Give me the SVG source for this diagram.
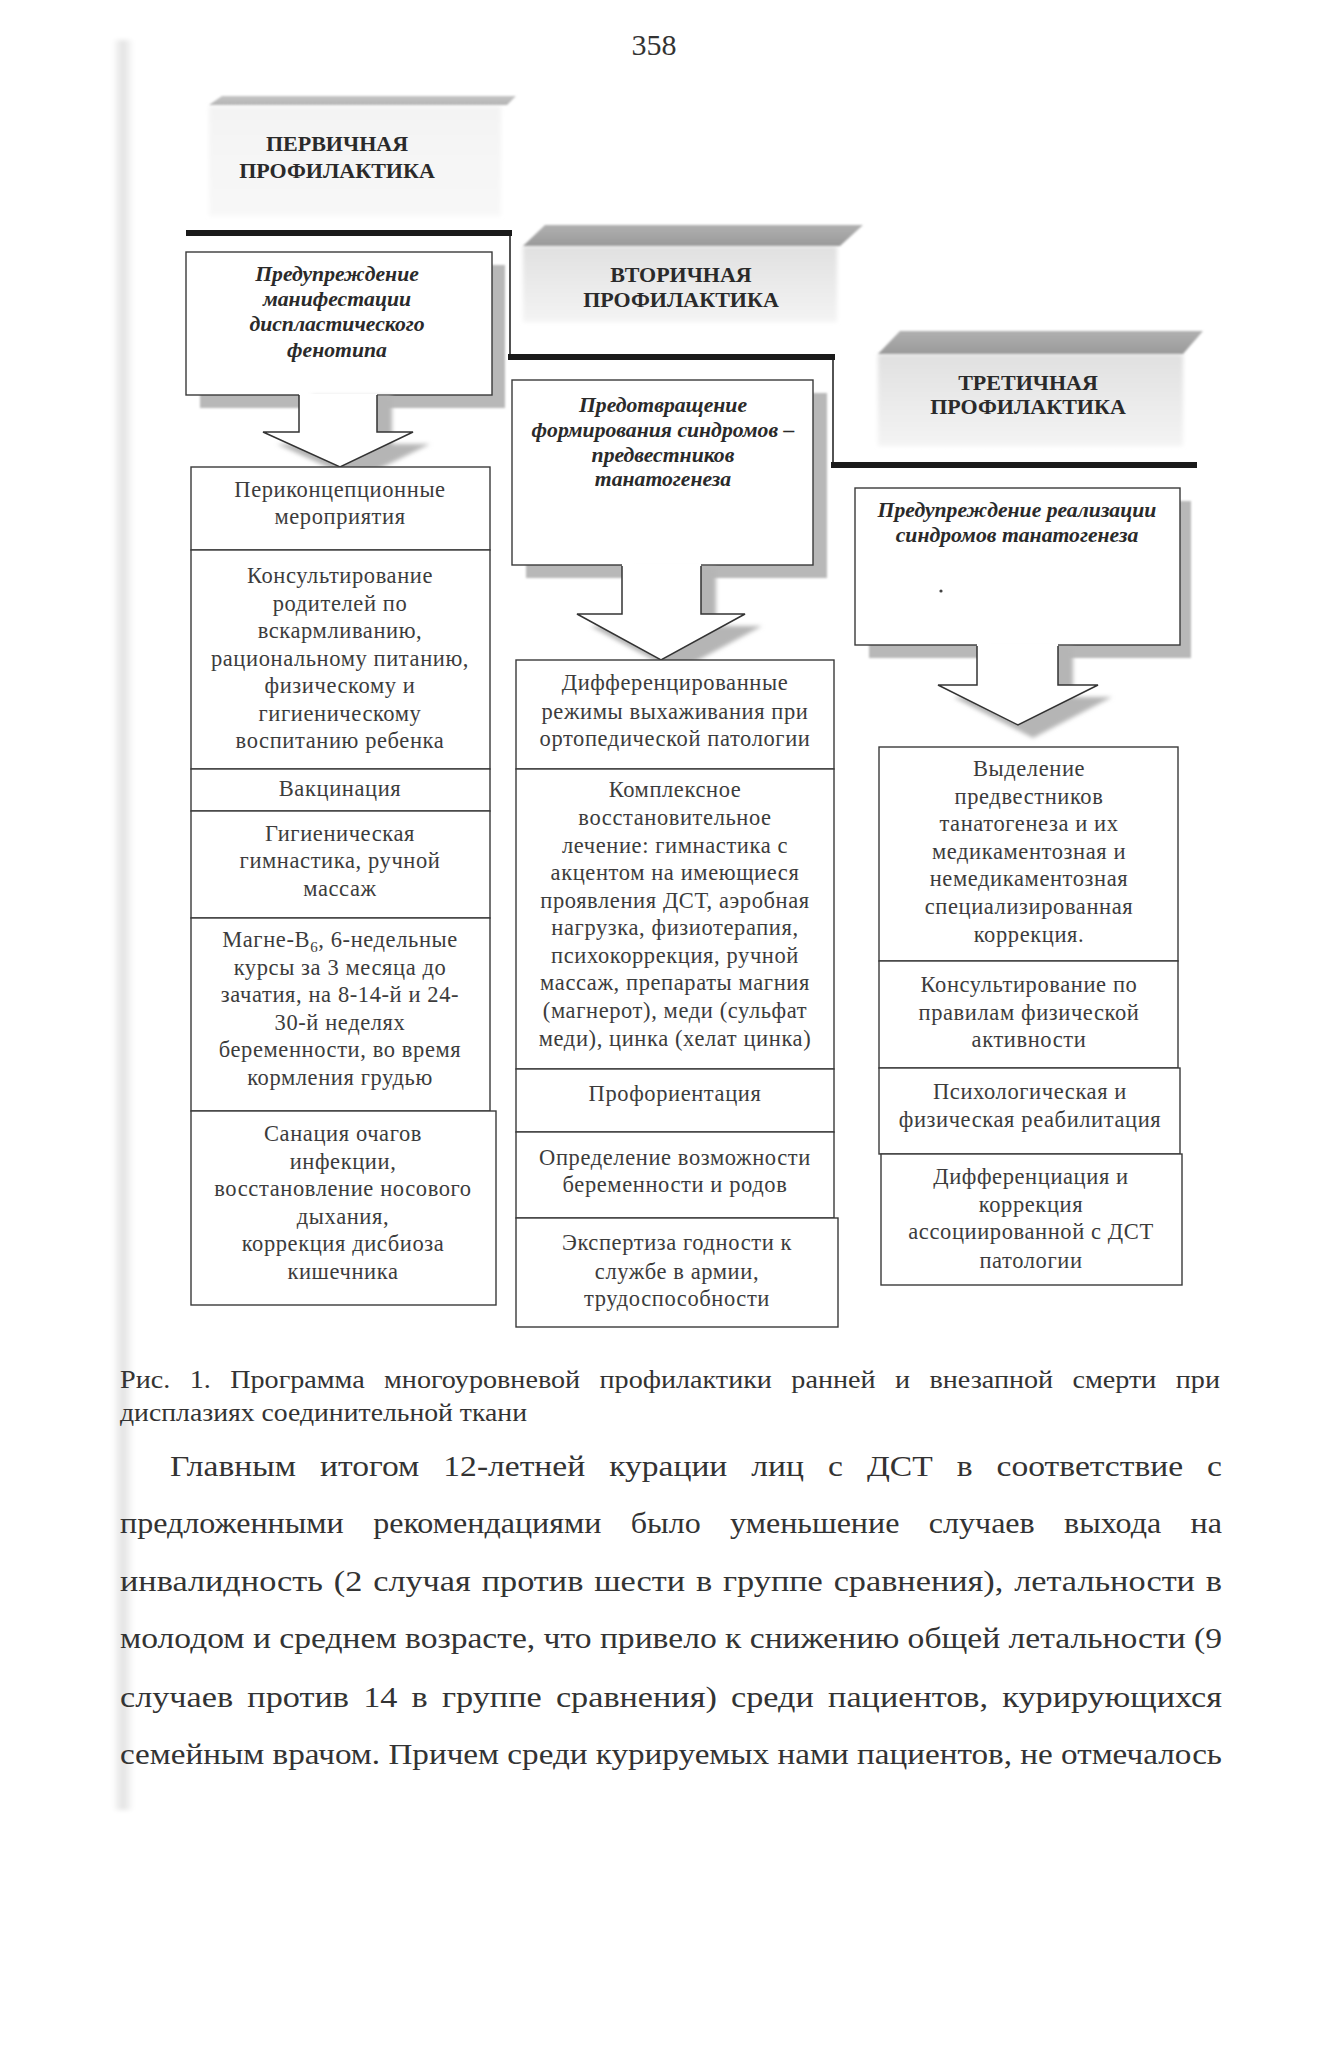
<svg xmlns="http://www.w3.org/2000/svg" width="1340" height="2050" viewBox="0 0 1340 2050">
<defs>
<style>
.cell{fill:#fff;stroke:#3a3a3a;stroke-width:1.4}
.t{font-family:"Liberation Serif","Times New Roman",serif;font-size:22.5px;fill:#3c3c3c;text-anchor:middle;letter-spacing:0.6px}
.hb{font-family:"Liberation Serif","Times New Roman",serif;font-size:22px;font-weight:bold;fill:#2a2a2a;text-anchor:middle}
.bi{font-family:"Liberation Serif","Times New Roman",serif;font-size:21.7px;font-weight:bold;font-style:italic;fill:#2a2a2a;text-anchor:middle}
.box{fill:#fff;stroke:#3a3a3a;stroke-width:1.4}
.shadow{fill:#b8b8b8}
.thick{stroke:#1a1a1a;stroke-width:6;fill:none}
.thin{stroke:#1a1a1a;stroke-width:1.5;fill:none}
.arrowfill{fill:#fff;stroke:none}
.arrowline{fill:none;stroke:#333;stroke-width:1.5}
.body{font-family:"Liberation Serif","Times New Roman",serif;font-size:30px;fill:#333}
.cap{font-family:"Liberation Serif","Times New Roman",serif;font-size:25px;fill:#333}
</style>
<linearGradient id="hdrTop" x1="0" y1="0" x2="0" y2="1">
<stop offset="0" stop-color="#b0b0b0"/><stop offset="1" stop-color="#9a9a9a"/>
</linearGradient>
<linearGradient id="hdrTopLight" x1="0" y1="0" x2="0" y2="1">
<stop offset="0" stop-color="#c4c4c4"/><stop offset="1" stop-color="#b4b4b4"/>
</linearGradient>
<linearGradient id="hdrBox" x1="0" y1="0" x2="0" y2="1">
<stop offset="0" stop-color="#e0e0e0"/><stop offset="1" stop-color="#f4f4f4"/>
</linearGradient>
<linearGradient id="hdrBoxLight" x1="0" y1="0" x2="0" y2="1">
<stop offset="0" stop-color="#f3f3f3"/><stop offset="1" stop-color="#f8f8f8"/>
</linearGradient>
<linearGradient id="leftStrip" x1="0" y1="0" x2="1" y2="0">
<stop offset="0" stop-color="#ffffff"/><stop offset="0.5" stop-color="#e2e2e2"/><stop offset="1" stop-color="#ffffff"/>
</linearGradient>
<filter id="soft" x="-5%" y="-20%" width="110%" height="140%"><feGaussianBlur stdDeviation="2"/></filter>
<filter id="soft1" x="-5%" y="-20%" width="110%" height="140%"><feGaussianBlur stdDeviation="1"/></filter>
</defs>
<rect x="0" y="0" width="1340" height="2050" fill="#fff"/>
<rect x="112" y="40" width="22" height="1770" fill="url(#leftStrip)" filter="url(#soft)"/>

<text x="654" y="55" font-family="Liberation Serif, serif" font-size="30" fill="#333" text-anchor="middle">358</text>

<!-- headers -->
<g id="header-primary">
<rect x="209" y="106" width="292" height="110" fill="url(#hdrBoxLight)" filter="url(#soft)"/>
<polygon points="222,96 516,96 507,105 209,105" fill="url(#hdrTopLight)" filter="url(#soft1)"/>
<text class="hb" x="337" y="151">ПЕРВИЧНАЯ</text>
<text class="hb" x="337" y="178">ПРОФИЛАКТИКА</text>
</g>
<g id="header-secondary">
<rect x="523" y="246" width="314" height="76" fill="url(#hdrBox)" filter="url(#soft)"/>
<polygon points="545,225 863,225 840,246 523,246" fill="url(#hdrTop)" filter="url(#soft1)"/>
<text class="hb" x="681" y="282">ВТОРИЧНАЯ</text>
<text class="hb" x="681" y="307">ПРОФИЛАКТИКА</text>
</g>
<g id="header-tertiary">
<rect x="878" y="354" width="305" height="92" fill="url(#hdrBox)" filter="url(#soft)"/>
<polygon points="900,331 1203,331 1183,354 878,354" fill="url(#hdrTop)" filter="url(#soft1)"/>
<text class="hb" x="1028" y="390">ТРЕТИЧНАЯ</text>
<text class="hb" x="1028" y="414">ПРОФИЛАКТИКА</text>
</g>

<!-- step lines -->
<g id="steps">
<line class="thick" x1="186" y1="233" x2="512" y2="233"/>
<line class="thin" x1="510" y1="233" x2="510" y2="357"/>
<line class="thick" x1="508" y1="357" x2="835" y2="357"/>
<line class="thin" x1="833" y1="357" x2="833" y2="465"/>
<line class="thick" x1="831" y1="465" x2="1197" y2="465"/>
</g>

<!-- goal boxes -->
<g id="goal-primary">
<rect class="shadow" x="200" y="265" width="305" height="143" filter="url(#soft1)"/>
<rect class="box" x="186" y="252" width="306" height="143"/>
<text class="bi" x="337" y="281">Предупреждение</text>
<text class="bi" x="337" y="306">манифестации</text>
<text class="bi" x="337" y="331">диспластического</text>
<text class="bi" x="337" y="357">фенотипа</text>
</g>
<g id="goal-secondary">
<rect class="shadow" x="526" y="393" width="301" height="185" filter="url(#soft1)"/>
<rect class="box" x="512" y="380" width="301" height="185"/>
<text class="bi" x="663" y="412">Предотвращение</text>
<text class="bi" x="663" y="437">формирования синдромов –</text>
<text class="bi" x="663" y="462">предвестников</text>
<text class="bi" x="663" y="486">танатогенеза</text>
</g>
<g id="goal-tertiary">
<rect class="shadow" x="869" y="501" width="322" height="157" filter="url(#soft1)"/>
<rect class="box" x="855" y="488" width="325" height="157"/>
<text class="bi" x="1017" y="517">Предупреждение реализации</text>
<text class="bi" x="1017" y="542">синдромов танатогенеза</text>
<circle cx="941" cy="591" r="1.6" fill="#444"/>
</g>

<!-- connectors -->
<g id="connectors">
<polygon points="312,396 392,396 392,444 430,444 356,480 277,444 312,444" fill="#b5b5b5" filter="url(#soft)"/>
<polygon class="arrowfill" points="299,394 377,394 377,432 413,432 340,467 263,432 299,432"/>
<polyline class="arrowline" points="299,395 299,432 263,432 340,467 413,432 377,432 377,395"/>

<polygon points="636,568 716,568 716,626 762,626 676,672 590,626 636,626" fill="#b5b5b5" filter="url(#soft)"/>
<polygon class="arrowfill" points="622,564 701,564 701,614 745,614 661,660 577,614 622,614"/>
<polyline class="arrowline" points="622,566 622,614 577,614 661,660 745,614 701,614 701,566"/>

<polygon points="991,648 1073,648 1073,697 1112,697 1033,738 953,697 991,697" fill="#b5b5b5" filter="url(#soft)"/>
<polygon class="arrowfill" points="977,644 1058,644 1058,685 1098,685 1018,725 938,685 977,685"/>
<polyline class="arrowline" points="977,646 977,685 938,685 1018,725 1098,685 1058,685 1058,646"/>
</g>

<!-- column 1 -->
<g id="p1">
<rect class="cell" x="191" y="467" width="299" height="83"/>
<text class="t" x="340" y="497">Периконцепционные</text>
<text class="t" x="340" y="524">мероприятия</text>
</g>
<g id="p2">
<rect class="cell" x="191" y="550" width="299" height="219"/>
<text class="t" x="340" y="583">Консультирование</text>
<text class="t" x="340" y="611">родителей по</text>
<text class="t" x="340" y="638">вскармливанию,</text>
<text class="t" x="340" y="666">рациональному питанию,</text>
<text class="t" x="340" y="693">физическому и</text>
<text class="t" x="340" y="721">гигиеническому</text>
<text class="t" x="340" y="748">воспитанию ребенка</text>
</g>
<g id="p3">
<rect class="cell" x="191" y="769" width="299" height="42"/>
<text class="t" x="340" y="796">Вакцинация</text>
</g>
<g id="p4">
<rect class="cell" x="191" y="811" width="299" height="107"/>
<text class="t" x="340" y="841">Гигиеническая</text>
<text class="t" x="340" y="868">гимнастика, ручной</text>
<text class="t" x="340" y="896">массаж</text>
</g>
<g id="p5">
<rect class="cell" x="191" y="918" width="299" height="193"/>
<text class="t" x="340" y="947">Магне-В<tspan font-size="15" dy="5">6</tspan><tspan dy="-5">, 6-недельные</tspan></text>
<text class="t" x="340" y="975">курсы за 3 месяца до</text>
<text class="t" x="340" y="1002">зачатия, на 8-14-й и 24-</text>
<text class="t" x="340" y="1030">30-й неделях</text>
<text class="t" x="340" y="1057">беременности, во время</text>
<text class="t" x="340" y="1085">кормления грудью</text>
</g>
<g id="p6">
<rect class="cell" x="191" y="1111" width="305" height="194"/>
<text class="t" x="343" y="1141">Санация очагов</text>
<text class="t" x="343" y="1169">инфекции,</text>
<text class="t" x="343" y="1196">восстановление носового</text>
<text class="t" x="343" y="1224">дыхания,</text>
<text class="t" x="343" y="1251">коррекция дисбиоза</text>
<text class="t" x="343" y="1279">кишечника</text>
</g>

<!-- column 2 -->
<g id="s1">
<rect class="cell" x="516" y="660" width="318" height="109"/>
<text class="t" x="675" y="690">Дифференцированные</text>
<text class="t" x="675" y="719">режимы выхаживания при</text>
<text class="t" x="675" y="746">ортопедической патологии</text>
</g>
<g id="s2">
<rect class="cell" x="516" y="769" width="318" height="300"/>
<text class="t" x="675" y="797">Комплексное</text>
<text class="t" x="675" y="825">восстановительное</text>
<text class="t" x="675" y="853">лечение: гимнастика с</text>
<text class="t" x="675" y="880">акцентом на имеющиеся</text>
<text class="t" x="675" y="908">проявления ДСТ, аэробная</text>
<text class="t" x="675" y="935">нагрузка, физиотерапия,</text>
<text class="t" x="675" y="963">психокоррекция, ручной</text>
<text class="t" x="675" y="990">массаж, препараты магния</text>
<text class="t" x="675" y="1018">(магнерот), меди (сульфат</text>
<text class="t" x="675" y="1046">меди), цинка (хелат цинка)</text>
</g>
<g id="s3">
<rect class="cell" x="516" y="1069" width="318" height="63"/>
<text class="t" x="675" y="1101">Профориентация</text>
</g>
<g id="s4">
<rect class="cell" x="516" y="1132" width="318" height="86"/>
<text class="t" x="675" y="1165">Определение возможности</text>
<text class="t" x="675" y="1192">беременности и родов</text>
</g>
<g id="s5">
<rect class="cell" x="516" y="1218" width="322" height="109"/>
<text class="t" x="677" y="1250">Экспертиза годности к</text>
<text class="t" x="677" y="1279">службе в армии,</text>
<text class="t" x="677" y="1306">трудоспособности</text>
</g>

<!-- column 3 -->
<g id="t1">
<rect class="cell" x="879" y="747" width="299" height="214"/>
<text class="t" x="1029" y="776">Выделение</text>
<text class="t" x="1029" y="804">предвестников</text>
<text class="t" x="1029" y="831">танатогенеза и их</text>
<text class="t" x="1029" y="859">медикаментозная и</text>
<text class="t" x="1029" y="886">немедикаментозная</text>
<text class="t" x="1029" y="914">специализированная</text>
<text class="t" x="1029" y="942">коррекция.</text>
</g>
<g id="t2">
<rect class="cell" x="879" y="961" width="299" height="107"/>
<text class="t" x="1029" y="992">Консультирование по</text>
<text class="t" x="1029" y="1020">правилам физической</text>
<text class="t" x="1029" y="1047">активности</text>
</g>
<g id="t3">
<rect class="cell" x="879" y="1068" width="301" height="86"/>
<text class="t" x="1030" y="1099">Психологическая и</text>
<text class="t" x="1030" y="1127">физическая реабилитация</text>
</g>
<g id="t4">
<rect class="cell" x="881" y="1154" width="301" height="131"/>
<text class="t" x="1031" y="1184">Дифференциация и</text>
<text class="t" x="1031" y="1212">коррекция</text>
<text class="t" x="1031" y="1239">ассоциированной с ДСТ</text>
<text class="t" x="1031" y="1268">патологии</text>
</g>

<!-- caption and body text -->
<g id="caption">
<text class="cap" x="120" y="1388" word-spacing="11" textLength="1100" lengthAdjust="spacingAndGlyphs">Рис. 1. Программа многоуровневой профилактики ранней и внезапной смерти при</text>
<text class="cap" x="120" y="1421" textLength="407" lengthAdjust="spacingAndGlyphs">дисплазиях соединительной ткани</text>
</g>
<g id="body">
<text class="body" x="170" y="1476" word-spacing="14" textLength="1052" lengthAdjust="spacingAndGlyphs">Главным итогом 12-летней курации лиц с ДСТ в соответствие с</text>
<text class="body" x="120" y="1533" word-spacing="20" textLength="1102" lengthAdjust="spacingAndGlyphs">предложенными рекомендациями было уменьшение случаев выхода на</text>
<text class="body" x="120" y="1591" word-spacing="2" textLength="1102" lengthAdjust="spacingAndGlyphs">инвалидность (2 случая против шести  в группе сравнения), летальности в</text>
<text class="body" x="120" y="1648" textLength="1102" lengthAdjust="spacingAndGlyphs">молодом и среднем возрасте, что привело к снижению общей летальности (9</text>
<text class="body" x="120" y="1707" word-spacing="5" textLength="1102" lengthAdjust="spacingAndGlyphs">случаев против 14 в группе сравнения)  среди пациентов, курирующихся</text>
<text class="body" x="120" y="1764" textLength="1102" lengthAdjust="spacingAndGlyphs">семейным врачом. Причем среди курируемых нами пациентов, не отмечалось</text>
</g>
</svg>
